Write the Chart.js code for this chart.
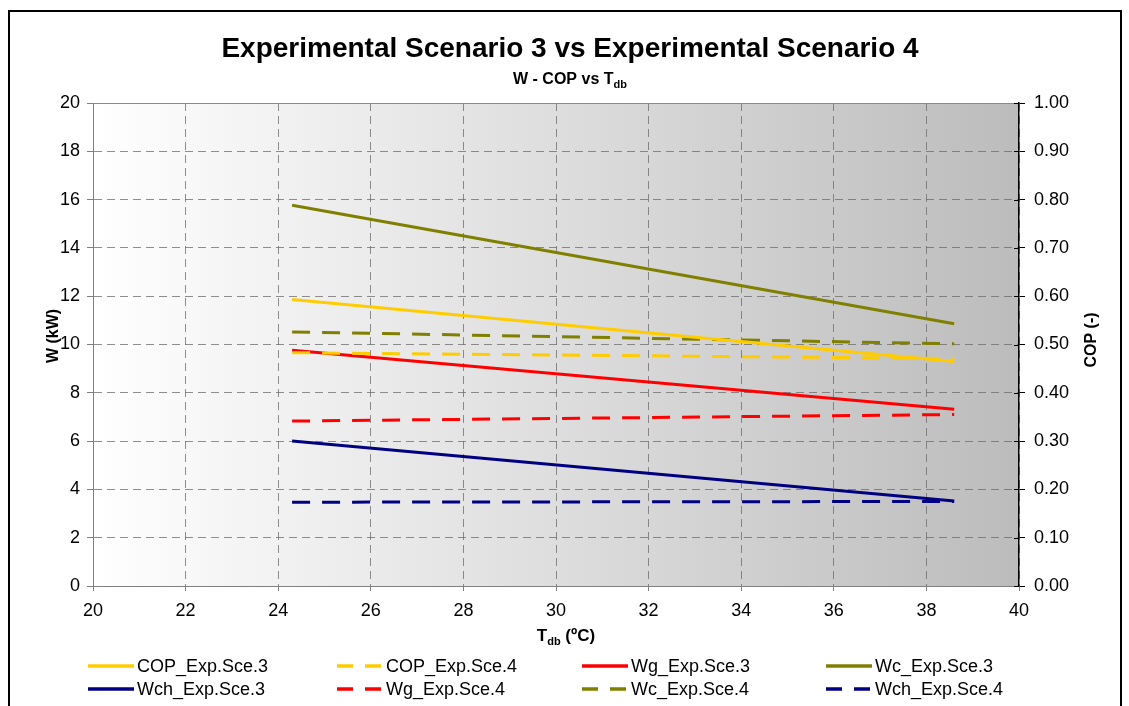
<!DOCTYPE html>
<html>
<head>
<meta charset="utf-8">
<script src="https://cdn.jsdelivr.net/npm/chart.js@4/dist/chart.umd.min.js"></script>
<style>
  body { margin: 0; background: #fff; }
  canvas { display: block; }
</style>
</head>
<body>
<canvas id="chart" width="1129" height="706"></canvas>
<script>
// data
const tdb = [24.3, 38.6];
const copSce3 = [0.593, 0.465];
const copSce4 = [0.483, 0.471];
const wgSce3 = [9.76, 7.32];
const wcSce3 = [15.77, 10.86];
const wchSce3 = [6.0, 3.52];
const wgSce4 = [6.83, 7.10];
const wcSce4 = [10.52, 10.03];
const wchSce4 = [3.47, 3.50];

const seriesNames = ['COP_Exp.Sce.3', 'COP_Exp.Sce.4', 'Wg_Exp.Sce.3', 'Wc_Exp.Sce.3',
                     'Wch_Exp.Sce.3', 'Wg_Exp.Sce.4', 'Wc_Exp.Sce.4', 'Wch_Exp.Sce.4'];

const YELLOW = '#FFCC00', RED = '#FF0000', OLIVE = '#808000', NAVY = '#000080';
const DASH = [18, 12];
const FONT = "'Liberation Sans', Arial, sans-serif";

function pts(values) {
    return tdb.map((x, i) => ({ x: x, y: values[i] }));
}

function makeSet(label, values, color, dashed, axis) {
    return {
        label: label,
        data: pts(values),
        borderColor: color,
        backgroundColor: color,
        borderWidth: 3,
        borderDash: dashed ? DASH : [],
        pointRadius: 0,
        fill: false,
        tension: 0,
        yAxisID: axis
    };
}

const datasets = [
    makeSet(seriesNames[0], copSce3, YELLOW, false, 'y1'),
    makeSet(seriesNames[1], copSce4, YELLOW, true, 'y1'),
    makeSet(seriesNames[2], wgSce3, RED, false, 'y'),
    makeSet(seriesNames[3], wcSce3, OLIVE, false, 'y'),
    makeSet(seriesNames[4], wchSce3, NAVY, false, 'y'),
    makeSet(seriesNames[5], wgSce4, RED, true, 'y'),
    makeSet(seriesNames[6], wcSce4, OLIVE, true, 'y'),
    makeSet(seriesNames[7], wchSce4, NAVY, true, 'y')
];

// text with a subscript part, centred at cx
function drawSubText(ctx, parts, cx, y, size, subSize) {
    let total = 0;
    parts.forEach(p => {
        ctx.font = 'bold ' + (p.sub ? subSize : size) + 'px ' + FONT;
        p.w = ctx.measureText(p.t).width;
        total += p.w;
    });
    let x = cx - total / 2;
    ctx.textAlign = 'left';
    ctx.textBaseline = 'alphabetic';
    parts.forEach(p => {
        ctx.font = 'bold ' + (p.sub ? subSize : size) + 'px ' + FONT;
        ctx.fillText(p.t, x, p.sub ? y + size * 0.25 : y);
        x += p.w;
    });
}

const decorPlugin = {
    id: 'decor',
    beforeDraw(chart) {
        const ctx = chart.ctx;
        const a = chart.chartArea;
        const g = ctx.createLinearGradient(a.left, 0, a.right, 0);
        g.addColorStop(0, '#ffffff');
        g.addColorStop(1, '#bcbcbc');
        ctx.save();
        ctx.fillStyle = g;
        ctx.fillRect(a.left, a.top, a.right - a.left, a.bottom - a.top);
        ctx.restore();
    },
    afterDraw(chart) {
        const ctx = chart.ctx;
        const a = chart.chartArea;
        ctx.save();

        // plot frame top
        ctx.strokeStyle = '#8a8a8a';
        ctx.lineWidth = 1;
        ctx.beginPath();
        ctx.moveTo(a.left, a.top + 0.5);
        ctx.lineTo(a.right, a.top + 0.5);
        ctx.stroke();

        // inner half of right axis ticks
        const y1 = chart.scales.y1;
        ctx.strokeStyle = '#000';
        y1.ticks.forEach(t => {
            const py = Math.round(y1.getPixelForValue(t.value)) + 0.5;
            ctx.beginPath();
            ctx.moveTo(a.right - 5, py);
            ctx.lineTo(a.right, py);
            ctx.stroke();
        });

        // outer border
        ctx.strokeStyle = '#000';
        ctx.lineWidth = 2;
        ctx.strokeRect(9, 11, 1112, 720);

        // titles
        ctx.fillStyle = '#000';
        ctx.font = 'bold 28px ' + FONT;
        ctx.textAlign = 'center';
        ctx.textBaseline = 'alphabetic';
        ctx.fillText('Experimental Scenario 3 vs Experimental Scenario 4', 570, 57);
        drawSubText(ctx, [{ t: 'W - COP vs T' }, { t: 'db', sub: true }], 570, 84, 16, 11);

        // axis titles
        drawSubText(ctx, [{ t: 'T' }, { t: 'db', sub: true }, { t: ' (ºC)' }], 566, 641, 17, 11);
        ctx.font = 'bold 16px ' + FONT;
        ctx.textAlign = 'center';
        ctx.save();
        ctx.translate(58, 336);
        ctx.rotate(-Math.PI / 2);
        ctx.fillText('W (kW)', 0, 0);
        ctx.restore();
        ctx.save();
        ctx.translate(1096, 340);
        ctx.rotate(-Math.PI / 2);
        ctx.fillText('COP (-)', 0, 0);
        ctx.restore();

        // legend, 4 columns x 2 rows
        const colX = [88, 337, 582, 826];
        const rowY = [666, 689];
        ctx.font = '18px ' + FONT;
        ctx.textAlign = 'left';
        ctx.textBaseline = 'middle';
        chart.data.datasets.forEach((ds, i) => {
            const cx = colX[i % 4];
            const cy = rowY[Math.floor(i / 4)];
            ctx.strokeStyle = ds.borderColor;
            ctx.lineWidth = 3.5;
            ctx.setLineDash(ds.borderDash.length ? [16, 12] : []);
            ctx.beginPath();
            ctx.moveTo(cx, cy);
            ctx.lineTo(cx + 46, cy);
            ctx.stroke();
            ctx.setLineDash([]);
            ctx.fillStyle = '#000';
            ctx.fillText(ds.label, cx + 49, cy + 1);
        });
        ctx.restore();
    }
};

const gridDash = { dash: [8, 5] };

new Chart(document.getElementById('chart'), {
    type: 'line',
    data: { datasets: datasets },
    plugins: [decorPlugin],
    options: {
        responsive: false,
        animation: false,
        devicePixelRatio: 1,
        layout: { padding: { left: 10, right: 10, top: 103, bottom: 0 } },
        plugins: {
            legend: { display: false },
            title: { display: false },
            tooltip: { enabled: false }
        },
        scales: {
            x: {
                type: 'linear',
                min: 20,
                max: 40,
                ticks: { stepSize: 2, color: '#000', padding: 9, font: { family: FONT, size: 18 } },
                grid: { color: 'rgba(105,105,105,0.75)', tickColor: '#808080', tickLength: 5, tickBorderDash: [] },
                border: { color: '#808080', width: 1, dash: gridDash.dash },
                afterFit(scale) { scale.height = 120; }
            },
            y: {
                position: 'left',
                min: 0,
                max: 20,
                ticks: { stepSize: 2, color: '#000', padding: 7, font: { family: FONT, size: 18 } },
                grid: { color: 'rgba(105,105,105,0.75)', tickColor: '#808080', tickLength: 6, tickBorderDash: [] },
                border: { color: '#808080', width: 1, dash: gridDash.dash },
                afterFit(scale) { scale.width = 83; }
            },
            y1: {
                position: 'right',
                min: 0,
                max: 1,
                ticks: {
                    stepSize: 0.1,
                    color: '#000',
                    padding: 9,
                    font: { family: FONT, size: 18 },
                    callback: v => v.toFixed(2)
                },
                grid: { drawOnChartArea: false, tickColor: '#000', tickLength: 6 },
                border: { color: '#000', width: 1.5 },
                afterFit(scale) { scale.width = 100; }
            }
        }
    }
});
</script>
</body>
</html>
